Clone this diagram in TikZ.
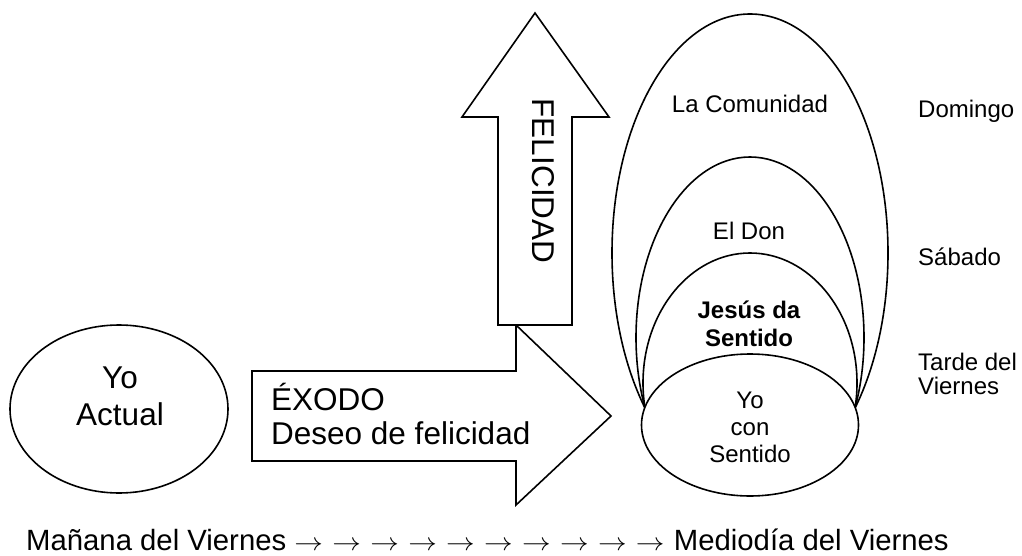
\documentclass[tikz,border=0pt]{standalone}
\usepackage{graphicx}
\usepackage{fontspec}
\setmainfont{Liberation Sans}
\usetikzlibrary{shapes.geometric}
\newcommand{\tarrow}{\scalebox{1.15}[1]{$\rightarrow$}\hspace{1.2pt}}
\begin{document}
\begin{tikzpicture}[x=1pt,y=-1pt,
  outl/.style={draw=black,line width=1.6pt,fill=white,line join=miter},
  ell/.style={ellipse,draw=black,line width=1.6pt,fill=white,inner sep=0pt},
  nest/.style={draw=black,line width=1.6pt,fill=white},
  bigtxt/.style={font=\fontsize{31.5}{36}\selectfont,inner sep=0pt},
  midtxt/.style={font=\fontsize{24}{27}\selectfont,inner sep=0pt,anchor=base},
  boldtxt/.style={font=\fontsize{24}{27}\selectfont\bfseries,inner sep=0pt,anchor=base},
  daytxt/.style={font=\fontsize{24}{27}\selectfont,inner sep=0pt,anchor=base west}]
\useasboundingbox (0,0) rectangle (1022,556);

% Yo Actual
\node[ell,minimum width=218pt,minimum height=168pt] (yoact) at (119,409) {};
\node[bigtxt,anchor=base] (yoA) at (120,388) {Yo};
\node[bigtxt,anchor=base] (actual) at (120,425) {Actual};

% right block arrow (Exodo)
\draw[outl] (252,371) coordinate (exA) -- (516,371) -- (516,325) -- (611,416) coordinate (exTip)
  -- (516,505) -- (516,461) -- (252,461) -- cycle;
\node[bigtxt,anchor=base west] (exodo) at (271,410) {ÉXODO};
\node[bigtxt,anchor=base west] (deseo) at (271,444) {Deseo de felicidad};

% up block arrow (Felicidad)
\draw[outl] (498,325) -- (498,117) -- (462,117) -- (535,13) coordinate (felTip)
  -- (609,117) -- (572,117) -- (572,325) -- cycle;
\node[bigtxt,rotate=-90] (felicidad) at (543.5,181) {FELICIDAD};

% nested ellipses
\begin{scope}
  \clip (590,0) rectangle (900,420);
  \draw[nest] (750,253) ellipse [x radius=138pt,y radius=239pt];
  \draw[nest] (750,337.6) ellipse [x radius=114pt,y radius=180.6pt];
  \draw[nest] (750,383) ellipse [x radius=107pt,y radius=130pt];
\end{scope}
\node[midtxt] (comunidad) at (750,113) {La Comunidad};
\node[midtxt] (don) at (749,239) {El Don};
\node[boldtxt] (jesus1) at (749,318) {Jesús da};
\node[boldtxt] (jesus2) at (749,346) {Sentido};

% Yo con Sentido
\node[ell,minimum width=217pt,minimum height=142pt] (yocon) at (750,425) {};
\node[midtxt] (yo2) at (750,408) {Yo};
\node[midtxt] (con) at (750,435) {con};
\node[midtxt] (sentido) at (750,462) {Sentido};

% days
\node[daytxt] (domingo) at (918,118) {Domingo};
\node[daytxt] (sabado) at (918,265) {Sábado};
\node[daytxt] (tarde) at (918,370) {Tarde del};
\node[daytxt] (viernes) at (918,394) {Viernes};

% bottom timeline
\node[font=\fontsize{29.3}{33}\selectfont,inner sep=0pt,anchor=base west] (timeline) at (26,550)
  {Mañana del Viernes \tarrow\ \tarrow\ \tarrow\ \tarrow\ \tarrow\ \tarrow\ \tarrow\ \tarrow\ \tarrow\ \tarrow\ Mediodía del Viernes};
\end{tikzpicture}
\end{document}
